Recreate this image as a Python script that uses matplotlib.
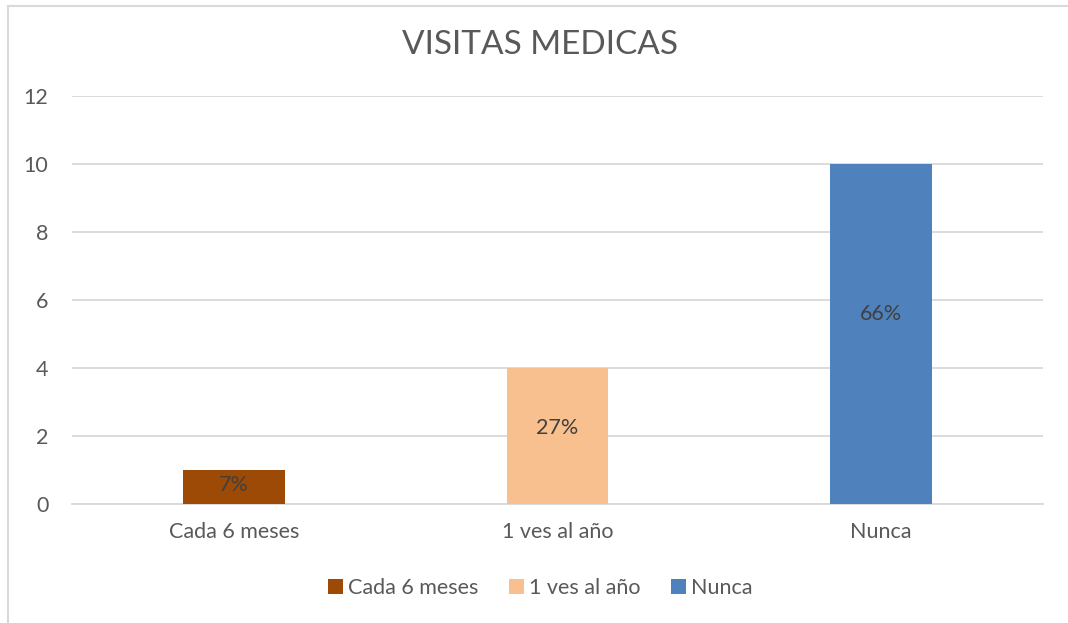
import matplotlib.pyplot as plt
from matplotlib.lines import Line2D
from matplotlib.patches import Patch

# --- data ---
categorias = ['Cada 6 meses', '1 ves al año', 'Nunca']
visitas = [1, 4, 10]
porcentajes = ['7%', '27%', '66%']
colores = ['#9C4A06', '#F9C08F', '#4F81BD']

gris_texto = '#595959'
gris_linea = '#D9D9D9'

plt.rcParams['font.family'] = ['Lato', 'DejaVu Sans']

fig = plt.figure(figsize=(10.68, 6.23), dpi=100)
ax = fig.add_axes([0.0674, 0.191, 0.9092, 0.6549])

x = range(len(categorias))
bars = ax.bar(x, visitas, width=0.315, color=colores, zorder=3)

# labels sit a bit above the middle of each bar
for b, txt in zip(bars, porcentajes):
    ax.annotate(txt, (b.get_x() + b.get_width() / 2, b.get_height() * 0.56),
                ha='center', va='center', fontsize=15.5, color='#404040', zorder=4)

ax.set_xlim(-0.5, 2.5)
ax.set_ylim(0, 12)
ax.set_yticks(range(0, 13, 2))
ax.set_xticks(list(x))
ax.set_xticklabels(categorias)
ax.tick_params(axis='y', length=0, pad=17, labelsize=15.5, labelcolor=gris_texto)
ax.tick_params(axis='x', length=0, pad=13, labelsize=15.5, labelcolor=gris_texto)
ax.grid(axis='y', color=gris_linea, linewidth=1.3, zorder=0)
for s in ['top', 'right', 'left']:
    ax.spines[s].set_visible(False)
ax.spines['bottom'].set_color(gris_linea)
ax.spines['bottom'].set_linewidth(1.3)

fig.text(0.506, 0.927, 'VISITAS MEDICAS', ha='center', va='center',
         fontsize=24, color=gris_texto)

handles = [Patch(facecolor=c, label=l) for c, l in zip(colores, categorias)]
fig.legend(handles=handles, loc='center', bbox_to_anchor=(0.506, 0.056), ncol=3,
           frameon=False, fontsize=15.5, labelcolor=gris_texto,
           handlelength=0.7, handleheight=0.7, handletextpad=0.25, columnspacing=1.4)

# chart border (left and top visible)
fig.add_artist(Line2D([0.0075, 0.0075], [0, 0.990], color=gris_linea, linewidth=1.5))
fig.add_artist(Line2D([0.0075, 1.0], [0.990, 0.990], color=gris_linea, linewidth=1.5))

fig.savefig('out.png', dpi=100)
